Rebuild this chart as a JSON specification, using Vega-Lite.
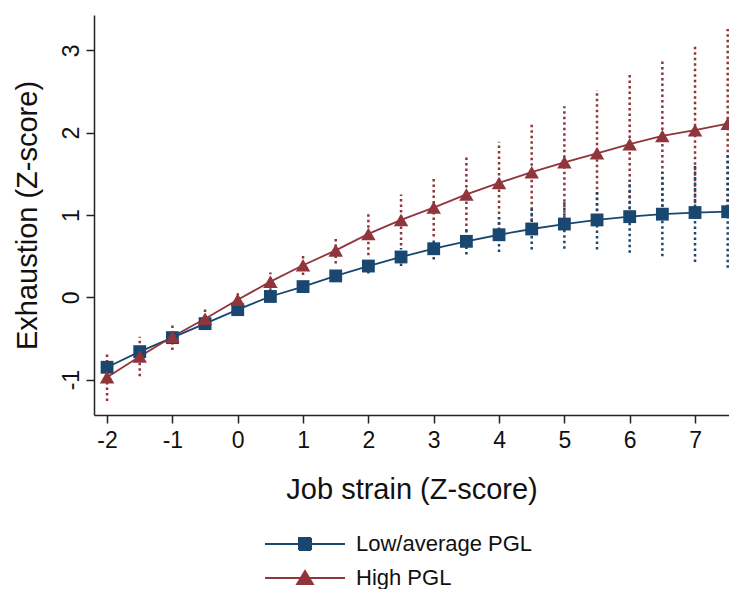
{
  "$schema": "https://vega.github.io/schema/vega-lite/v6.json",
  "width": 635,
  "height": 400,
  "autosize": {"type": "none"},
  "padding": {"left": 94, "top": 15, "right": 0, "bottom": 174},
  "background": "white",
  "config": {
    "font": "Liberation Sans",
    "view": {"stroke": null},
    "axis": {
      "grid": false,
      "domainColor": "#222222",
      "domainWidth": 1.5,
      "tickColor": "#222222",
      "tickWidth": 1.5,
      "tickSize": 8,
      "labelColor": "#111111",
      "titleColor": "#111111",
      "labelFontSize": 23,
      "titleFontSize": 29,
      "titleFontWeight": "normal",
      "labelOverlap": false,
      "labelFlush": false
    }
  },
  "data": {
    "values": [
      {"group": "Low/average PGL", "x": -2, "y": -0.85, "lo": -0.91, "hi": -0.79},
      {"group": "Low/average PGL", "x": -1.5, "y": -0.66, "lo": -0.71, "hi": -0.61},
      {"group": "Low/average PGL", "x": -1, "y": -0.49, "lo": -0.53, "hi": -0.45},
      {"group": "Low/average PGL", "x": -0.5, "y": -0.32, "lo": -0.35, "hi": -0.29},
      {"group": "Low/average PGL", "x": 0, "y": -0.15, "lo": -0.18, "hi": -0.12},
      {"group": "Low/average PGL", "x": 0.5, "y": 0.01, "lo": -0.02, "hi": 0.04},
      {"group": "Low/average PGL", "x": 1, "y": 0.13, "lo": 0.09, "hi": 0.17},
      {"group": "Low/average PGL", "x": 1.5, "y": 0.26, "lo": 0.21, "hi": 0.31},
      {"group": "Low/average PGL", "x": 2, "y": 0.38, "lo": 0.29, "hi": 0.47},
      {"group": "Low/average PGL", "x": 2.5, "y": 0.49, "lo": 0.38, "hi": 0.60},
      {"group": "Low/average PGL", "x": 3, "y": 0.59, "lo": 0.46, "hi": 0.72},
      {"group": "Low/average PGL", "x": 3.5, "y": 0.68, "lo": 0.52, "hi": 0.84},
      {"group": "Low/average PGL", "x": 4, "y": 0.76, "lo": 0.55, "hi": 0.97},
      {"group": "Low/average PGL", "x": 4.5, "y": 0.83, "lo": 0.58, "hi": 1.08},
      {"group": "Low/average PGL", "x": 5, "y": 0.89, "lo": 0.59, "hi": 1.19},
      {"group": "Low/average PGL", "x": 5.5, "y": 0.94, "lo": 0.58, "hi": 1.30},
      {"group": "Low/average PGL", "x": 6, "y": 0.98, "lo": 0.54, "hi": 1.42},
      {"group": "Low/average PGL", "x": 6.5, "y": 1.01, "lo": 0.50, "hi": 1.52},
      {"group": "Low/average PGL", "x": 7, "y": 1.03, "lo": 0.43, "hi": 1.63},
      {"group": "Low/average PGL", "x": 7.5, "y": 1.04, "lo": 0.36, "hi": 1.73},
      {"group": "High PGL", "x": -2, "y": -0.97, "lo": -1.26, "hi": -0.68},
      {"group": "High PGL", "x": -1.5, "y": -0.72, "lo": -0.96, "hi": -0.48},
      {"group": "High PGL", "x": -1, "y": -0.48, "lo": -0.64, "hi": -0.33},
      {"group": "High PGL", "x": -0.5, "y": -0.26, "lo": -0.38, "hi": -0.14},
      {"group": "High PGL", "x": 0, "y": -0.03, "lo": -0.11, "hi": 0.05},
      {"group": "High PGL", "x": 0.5, "y": 0.19, "lo": 0.08, "hi": 0.30},
      {"group": "High PGL", "x": 1, "y": 0.39, "lo": 0.27, "hi": 0.51},
      {"group": "High PGL", "x": 1.5, "y": 0.57, "lo": 0.41, "hi": 0.73},
      {"group": "High PGL", "x": 2, "y": 0.77, "lo": 0.51, "hi": 1.03},
      {"group": "High PGL", "x": 2.5, "y": 0.94, "lo": 0.63, "hi": 1.25},
      {"group": "High PGL", "x": 3, "y": 1.09, "lo": 0.74, "hi": 1.44},
      {"group": "High PGL", "x": 3.5, "y": 1.25, "lo": 0.80, "hi": 1.70},
      {"group": "High PGL", "x": 4, "y": 1.39, "lo": 0.88, "hi": 1.89},
      {"group": "High PGL", "x": 4.5, "y": 1.52, "lo": 0.93, "hi": 2.11},
      {"group": "High PGL", "x": 5, "y": 1.64, "lo": 0.96, "hi": 2.32},
      {"group": "High PGL", "x": 5.5, "y": 1.75, "lo": 0.98, "hi": 2.52},
      {"group": "High PGL", "x": 6, "y": 1.86, "lo": 1.00, "hi": 2.72},
      {"group": "High PGL", "x": 6.5, "y": 1.96, "lo": 1.03, "hi": 2.89},
      {"group": "High PGL", "x": 7, "y": 2.03, "lo": 1.01, "hi": 3.05},
      {"group": "High PGL", "x": 7.5, "y": 2.11, "lo": 0.96, "hi": 3.26}
    ]
  },
  "encoding": {
    "x": {
      "field": "x",
      "type": "quantitative",
      "scale": {"domain": [-2.2, 7.52], "nice": false, "zero": false},
      "axis": {"values": [-2, -1, 0, 1, 2, 3, 4, 5, 6, 7], "labelExpr": "datum.value + ''", "title": "Job strain (Z-score)", "labelPadding": 6, "titlePadding": 23}
    }
  },
  "layer": [
    {
      "mark": {"type": "rule", "strokeDash": [2.5, 3], "strokeWidth": 2.5},
      "encoding": {
        "y": {
          "field": "lo",
          "type": "quantitative",
          "scale": {"domain": [-1.43, 3.43], "nice": false, "zero": false},
          "axis": {"values": [-1, 0, 1, 2, 3], "labelExpr": "datum.value + ''", "title": "Exhaustion (Z-score)", "labelAngle": 270, "labelAlign": "center", "labelBaseline": "alphabetic", "labelPadding": 8, "titlePadding": 18}
        },
        "y2": {"field": "hi"},
        "order": {"field": "group", "sort": "ascending"},
        "color": {
          "field": "group",
          "type": "nominal",
          "scale": {"domain": ["Low/average PGL", "High PGL"], "range": ["#1a476f", "#90353b"]},
          "legend": {
            "title": null,
            "orient": "none",
            "legendX": 200,
            "legendY": 518,
            "direction": "vertical",
            "labelFontSize": 22,
            "labelColor": "#111111",
            "labelLimit": 400,
            "rowPadding": 12,
            "symbolSize": 144,
            "symbolStrokeWidth": 2,
            "labelOffset": 40,
            "encode": {
              "symbols": {
                "update": {
                  "shape": {"signal": "datum.value === 'High PGL' ? 'M-6.67,0H6.67M0,-1.15L1.3,1H-1.3Z' : 'M-6.67,0H6.67M-1,-1H1V1H-1Z'"},
                  "fill": {"scale": "color", "field": "value"},
                  "stroke": {"scale": "color", "field": "value"},
                  "strokeDash": {"value": [1, 0]},
                  "opacity": {"value": 1},
                  "strokeWidth": {"value": 2}
                }
              }
            }
          }
        }
      }
    },
    {
      "mark": {"type": "line", "strokeWidth": 1.8},
      "encoding": {
        "y": {"field": "y", "type": "quantitative"},
        "color": {"field": "group", "type": "nominal"}
      }
    },
    {
      "transform": [{"filter": "datum.group === 'Low/average PGL'"}],
      "mark": {"type": "point", "filled": true, "opacity": 1, "size": 165, "shape": "square"},
      "encoding": {
        "y": {"field": "y", "type": "quantitative"},
        "color": {"field": "group", "type": "nominal"}
      }
    },
    {
      "transform": [{"filter": "datum.group === 'High PGL'"}],
      "mark": {"type": "point", "filled": true, "opacity": 1, "size": 210, "shape": "triangle-up"},
      "encoding": {
        "y": {"field": "y", "type": "quantitative"},
        "color": {"field": "group", "type": "nominal"}
      }
    }
  ]
}
